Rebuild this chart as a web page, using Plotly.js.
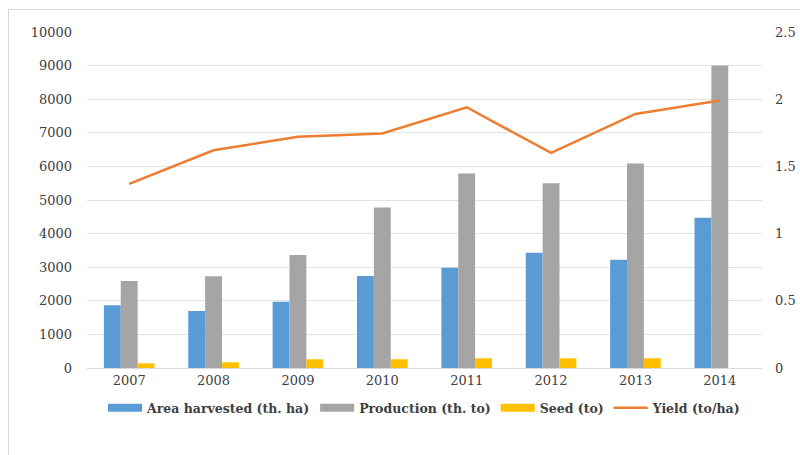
<!DOCTYPE html>
<html><head><meta charset="utf-8">
<script src="https://cdn.plot.ly/plotly-3.0.1.min.js"></script>
<style>
html,body{margin:0;padding:0;background:#fff;}
#frame{position:absolute;left:8px;top:9px;width:800px;height:445px;border-top:1px solid #d9d9d9;border-left:1px solid #d9d9d9;pointer-events:none;}
#chart{position:absolute;left:0;top:0;width:800px;height:455px;}
</style></head>
<body>
<div id="chart"></div>
<div id="frame"></div>
<script>
const years = ['2007','2008','2009','2010','2011','2012','2013','2014'];
const areaHarvested = [1870, 1700, 1970, 2740, 2980, 3430, 3220, 4470];
const production = [2590, 2730, 3360, 4780, 5790, 5500, 6090, 9000];
const seed = [140, 170, 260, 260, 290, 290, 290, 0];
const yieldVals = [1.37, 1.62, 1.72, 1.745, 1.94, 1.60, 1.89, 1.99];
const leftTicks = [0,1000,2000,3000,4000,5000,6000,7000,8000,9000,10000];
const leftTickText = ['0','1000','2000','3000','4000','5000','6000','7000','8000','9000','10000'];
const rightTicks = [0,0.5,1,1.5,2,2.5];
const rightTickText = ['0','0.5','1','1.5','2','2.5'];
const seriesNames = ['Area harvested (th. ha)','Production (th. to)','Seed (to)','Yield (to/ha)'];
const seriesColors = ['#5B9BD5','#A5A5A5','#FFC000','#ED7D31'];

const serif = '"DejaVu Serif", "Liberation Serif", serif';
const tickFont = {family:serif, size:13, color:'#404040'};

const empty = years.map(() => null);
const traces = [
  {type:'bar', name:seriesNames[0], x:years, y:areaHarvested, marker:{color:seriesColors[0]}, showlegend:false},
  {type:'bar', name:seriesNames[1], x:years, y:production, marker:{color:seriesColors[1]}, showlegend:false},
  {type:'bar', name:seriesNames[2], x:years, y:seed, marker:{color:seriesColors[2]}, showlegend:false},
  {type:'scatter', mode:'lines', name:seriesNames[3], x:years, y:yieldVals, yaxis:'y2',
   line:{color:seriesColors[3], width:2.5}, showlegend:false},
  // legend swatches (no data)
  {type:'scatter', mode:'lines', name:seriesNames[0], x:years, y:empty, line:{color:seriesColors[0], width:8}, hoverinfo:'skip'},
  {type:'scatter', mode:'lines', name:seriesNames[1], x:years, y:empty, line:{color:seriesColors[1], width:8}, hoverinfo:'skip'},
  {type:'scatter', mode:'lines', name:seriesNames[2], x:years, y:empty, line:{color:seriesColors[2], width:8}, hoverinfo:'skip'},
  {type:'scatter', mode:'lines', name:seriesNames[3], x:years, y:empty, line:{color:seriesColors[3], width:2.5}, hoverinfo:'skip'}
];

const layout = {
  width:800, height:455,
  margin:{l:87, r:38, t:32, b:87},
  paper_bgcolor:'#fff', plot_bgcolor:'#fff',
  barmode:'group', bargap:0.4, bargroupgap:0,
  showlegend:true,
  legend:{orientation:'h', x:0.5, xanchor:'center', y:-0.075, yanchor:'top',
          font:{family:serif, size:12.5, color:'#404040', weight:'bold'},
          traceorder:'normal', itemwidth:34},
  xaxis:{type:'category', tickfont:tickFont, showgrid:false, zeroline:false,
         showline:true, linecolor:'#d9d9d9', linewidth:1, ticks:'', ticklen:0},
  yaxis:{range:[0,10000], tickvals:leftTicks, ticktext:leftTickText, tickfont:tickFont, showgrid:true,
         gridcolor:'#e3e3e3', gridwidth:1, zeroline:false, ticks:'', ticklabelstandoff:14},
  yaxis2:{range:[0,2.5], overlaying:'y', side:'right', tickvals:rightTicks, ticktext:rightTickText,
          tickfont:tickFont, showgrid:false, zeroline:false, ticks:'', ticklabelstandoff:12}
};

Plotly.newPlot('chart', traces, layout, {displayModeBar:false});
</script>
</body></html>
